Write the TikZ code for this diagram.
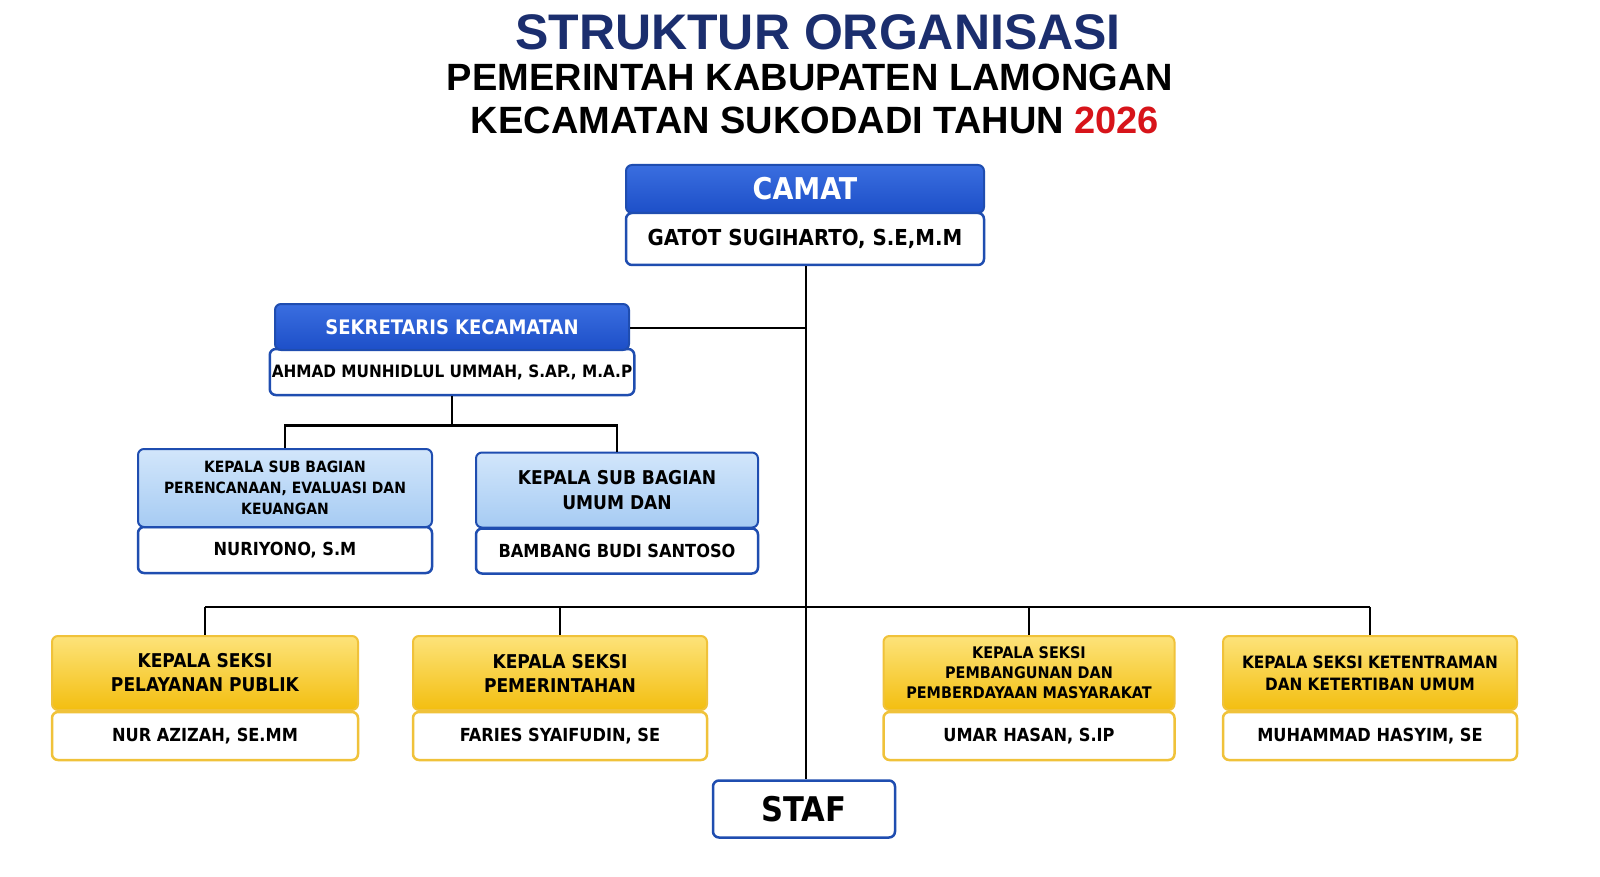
\documentclass[tikz,border=0pt]{standalone}
\usepackage{fontspec}
\setmainfont{Liberation Sans}
\newfontfamily\cond{DejaVu Sans Condensed}
\usetikzlibrary{positioning}
\definecolor{navy}{HTML}{1B2E6E}
\definecolor{hdrblue}{HTML}{1D4FC8}
\definecolor{hdrtop}{HTML}{3A6EE0}
\definecolor{edgeblue}{HTML}{1F4DB0}
\definecolor{lblue}{HTML}{A6CBF3}
\definecolor{ltop}{HTML}{D2E6FB}
\definecolor{ygold}{HTML}{F3BE10}
\definecolor{ytop}{HTML}{FDE37A}
\definecolor{yedge}{HTML}{F0C23A}
\definecolor{redyr}{HTML}{D7141A}

\tikzset{
  hdr/.style={draw=edgeblue,line width=2pt,rounded corners=6pt,top color=hdrtop,bottom color=hdrblue,
    text=white,font=\cond\bfseries,align=center,inner sep=2pt},
  subhdr/.style={draw=edgeblue,line width=2pt,rounded corners=6pt,top color=ltop,bottom color=lblue,
    text=black,font=\cond\bfseries,align=center,inner sep=2pt},
  yhdr/.style={draw=yedge,line width=2pt,rounded corners=6pt,top color=ytop,bottom color=ygold,
    text=black,font=\cond\bfseries,align=center,inner sep=2pt},
  namebox/.style={draw=edgeblue,line width=2.5pt,rounded corners=6pt,fill=white,
    font=\cond\bfseries,align=center,inner sep=2pt},
  yname/.style={namebox,draw=yedge},
  link/.style={line width=2.5pt,draw=black}
}

\begin{document}
\begin{tikzpicture}[x=1pt,y=-1pt]
  \useasboundingbox[fill=white] (0,0) rectangle (1600,877);

  % title
  \node[font=\fontsize{50}{50}\selectfont\bfseries,text=navy] (title) at (818,32) {STRUKTUR ORGANISASI};
  \node[font=\fontsize{38}{38}\selectfont\bfseries] (sub1) at (810,77) {PEMERINTAH KABUPATEN LAMONGAN};
  \node[font=\fontsize{38}{38}\selectfont\bfseries] (sub2) at (815,120) {KECAMATAN SUKODADI TAHUN \textcolor{redyr}{2026}};

  % camat
  \node[namebox,minimum width=358,minimum height=52,font=\cond\bfseries\fontsize{22}{24}\selectfont] (camatn) at (805,239) {GATOT SUGIHARTO, S.E,M.M};
  \node[hdr,minimum width=358,minimum height=48,font=\cond\bfseries\fontsize{30}{30}\selectfont] (camat) at (805,189) {CAMAT};

  % sekretaris
  \node[namebox,minimum width=356,minimum height=46,font=\cond\bfseries\fontsize{17}{19}\selectfont] (sekn) at (452,372) {AHMAD MUNHIDLUL UMMAH, S.AP., M.A.P};
  \node[hdr,minimum width=354,minimum height=46,font=\cond\bfseries\fontsize{20}{22}\selectfont] (sek) at (452,327) {SEKRETARIS KECAMATAN};

  % sub bagian
  \node[namebox,minimum width=294,minimum height=46,font=\cond\bfseries\fontsize{18}{20}\selectfont] (sub1n) at (285,550) {NURIYONO, S.M};
  \node[subhdr,minimum width=294,minimum height=78,font=\cond\bfseries\fontsize{15.5}{21}\selectfont] (sub1h) at (285,488) {KEPALA SUB BAGIAN\\PERENCANAAN, EVALUASI DAN\\KEUANGAN};
  \node[namebox,minimum width=282,minimum height=45,font=\cond\bfseries\fontsize{18}{20}\selectfont] (sub2n) at (617,551) {BAMBANG BUDI SANTOSO};
  \node[subhdr,minimum width=282,minimum height=75,font=\cond\bfseries\fontsize{19}{25}\selectfont] (sub2h) at (617,490) {KEPALA SUB BAGIAN\\UMUM DAN};

  % seksi
  \foreach \nm/\cx/\w/\fs/\bs/\hd/\per in {
      sa/205/306/19/24/{KEPALA SEKSI\\PELAYANAN PUBLIK}/{NUR AZIZAH, SE.MM},
      sb/560/294/19/24/{KEPALA SEKSI\\PEMERINTAHAN}/{FARIES SYAIFUDIN, SE},
      sc/1029/291/16/20/{KEPALA SEKSI\\PEMBANGUNAN DAN\\PEMBERDAYAAN MASYARAKAT}/{UMAR HASAN, S.IP},
      sd/1370/294/17/22/{KEPALA SEKSI KETENTRAMAN\\DAN KETERTIBAN UMUM}/{MUHAMMAD HASYIM, SE}} {
    \node[yname,minimum width=\w,minimum height=48,font=\cond\bfseries\fontsize{18}{20}\selectfont] (\nm n) at (\cx,736) {\per};
    \node[yhdr,minimum width=\w,minimum height=74,font=\cond\bfseries\fontsize{\fs}{\bs}\selectfont] (\nm) at (\cx,673) {\hd};
  }

  % staf
  \node[namebox,minimum width=182,minimum height=57,font=\cond\bfseries\fontsize{34}{34}\selectfont] (staf) at (804,809) {STAF};

  % connectors
  \coordinate (trunk) at (806,328);
  \coordinate (bar) at (806,607);
  \draw[link] (camatn.south -| trunk) -- (staf.north -| trunk);
  \draw[link] (sek.east |- trunk) -- (trunk);
  \draw[link] (sekn.south) -- ++(0,29) coordinate (fork) -| (sub1h.north);
  \draw[link] (fork) -| (sub2h.north);
  \draw[link] (sa.north |- bar) -- (sd.north |- bar);
  \foreach \nm in {sa,sb,sc,sd} \draw[link] (\nm.north |- bar) -- (\nm.north);
\end{tikzpicture}
\end{document}
